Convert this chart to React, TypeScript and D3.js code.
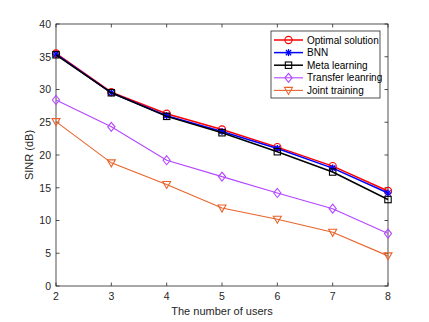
import React from "react";
import * as d3 from "d3";

const users = [2, 3, 4, 5, 6, 7, 8];
const optimal = [35.5, 29.6, 26.3, 23.9, 21.2, 18.3, 14.5];
const bnn = [35.4, 29.5, 26.0, 23.6, 21.0, 18.0, 14.2];
const meta = [35.3, 29.5, 25.9, 23.4, 20.5, 17.4, 13.2];
const transfer = [28.4, 24.3, 19.2, 16.7, 14.2, 11.8, 8.0];
const joint = [25.1, 18.8, 15.5, 11.9, 10.2, 8.2, 4.6];
const xTicks = [2, 3, 4, 5, 6, 7, 8];
const yTicks = [0, 5, 10, 15, 20, 25, 30, 35, 40];

const seriesNames = ["Optimal solution", "BNN", "Meta learning", "Transfer leanring", "Joint training"];
const seriesData = [optimal, bnn, meta, transfer, joint];
const colors = ["#ff0000", "#0000ff", "#000000", "#b446ff", "#e8642c"];
const markers = ["circle", "star", "square", "diamond", "triangle"];

const W = 429, H = 322;
const L = 56, R = 388, T = 24, B = 286;

function Marker({ type, x, y, color }: { type: string; x: number; y: number; color: string }) {
  const s = 3.5;
  if (type === "circle") return <circle cx={x} cy={y} r={3.6} fill="none" stroke={color} strokeWidth={1.1} />;
  if (type === "square") return <rect x={x - 3.2} y={y - 3.2} width={6.4} height={6.4} fill="none" stroke={color} strokeWidth={1.1} />;
  if (type === "diamond") return <path d={`M${x},${y - 4.5}L${x + 3.6},${y}L${x},${y + 4.5}L${x - 3.6},${y}Z`} fill="none" stroke={color} strokeWidth={1.1} />;
  if (type === "triangle") return <path d={`M${x - 4},${y - 3}L${x + 4},${y - 3}L${x},${y + 4}Z`} fill="none" stroke={color} strokeWidth={1.1} />;
  // star (asterisk)
  return (
    <g stroke={color} strokeWidth={1.3}>
      <line x1={x - s} y1={y} x2={x + s} y2={y} />
      <line x1={x} y1={y - s} x2={x} y2={y + s} />
      <line x1={x - s * 0.75} y1={y - s * 0.75} x2={x + s * 0.75} y2={y + s * 0.75} />
      <line x1={x - s * 0.75} y1={y + s * 0.75} x2={x + s * 0.75} y2={y - s * 0.75} />
    </g>
  );
}

export default function App() {
  const x = d3.scaleLinear().domain([2, 8]).range([L, R]);
  const y = d3.scaleLinear().domain([0, 40]).range([B, T]);
  const line = d3.line<number>().x((_, i) => x(users[i])).y((d) => y(d));
  const axisColor = "#262626";
  const font = "Liberation Sans, Arial, sans-serif";
  const legX = 271, legY = 31, legW = 109, legH = 67;
  return (
    <svg width={W} height={H} style={{ position: "absolute", left: 0, top: 0, background: "#fff" }} fontFamily={font}>
      <rect x={0} y={0} width={W} height={H} fill="#fff" />
      {/* box */}
      <rect x={L} y={T} width={R - L} height={B - T} fill="none" stroke={axisColor} strokeWidth={0.8} />
      {xTicks.map((t) => (
        <g key={"x" + t}>
          <line x1={x(t)} x2={x(t)} y1={B} y2={B - 3.5} stroke={axisColor} strokeWidth={0.8} />
          <line x1={x(t)} x2={x(t)} y1={T} y2={T + 3.5} stroke={axisColor} strokeWidth={0.8} />
          <text x={x(t)} y={B + 14} textAnchor="middle" fontSize={10.5} fill={axisColor}>{t}</text>
        </g>
      ))}
      {yTicks.map((t) => (
        <g key={"y" + t}>
          <line x1={L} x2={L + 3.5} y1={y(t)} y2={y(t)} stroke={axisColor} strokeWidth={0.8} />
          <line x1={R} x2={R - 3.5} y1={y(t)} y2={y(t)} stroke={axisColor} strokeWidth={0.8} />
          <text x={L - 5} y={y(t) + 3.8} textAnchor="end" fontSize={10.5} fill={axisColor}>{t}</text>
        </g>
      ))}
      <text x={(L + R) / 2} y={315} textAnchor="middle" fontSize={11} fill={axisColor}>The number of users</text>
      <text transform={`translate(33,${(T + B) / 2}) rotate(-90)`} textAnchor="middle" fontSize={11} fill={axisColor}>SINR (dB)</text>
      {seriesData.map((s, k) => (
        <g key={"s" + k}>
          <path d={line(s) || ""} fill="none" stroke={colors[k]} strokeWidth={k < 3 ? 1.5 : 1.1} />
          {s.map((v, i) => (
            <Marker key={i} type={markers[k]} x={x(users[i])} y={y(v)} color={colors[k]} />
          ))}
        </g>
      ))}
      {/* legend */}
      <rect x={legX} y={legY} width={legW} height={legH} fill="#fff" stroke={axisColor} strokeWidth={0.8} />
      {seriesNames.map((n, k) => {
        const yy = legY + 9 + k * 12.6;
        return (
          <g key={"l" + k}>
            <line x1={legX + 3} x2={legX + 32} y1={yy} y2={yy} stroke={colors[k]} strokeWidth={k < 3 ? 1.5 : 1.1} />
            <Marker type={markers[k]} x={legX + 17.5} y={yy} color={colors[k]} />
            <text x={legX + 36} y={yy + 3.6} fontSize={10} fill="#000">{n}</text>
          </g>
        );
      })}
    </svg>
  );
}
